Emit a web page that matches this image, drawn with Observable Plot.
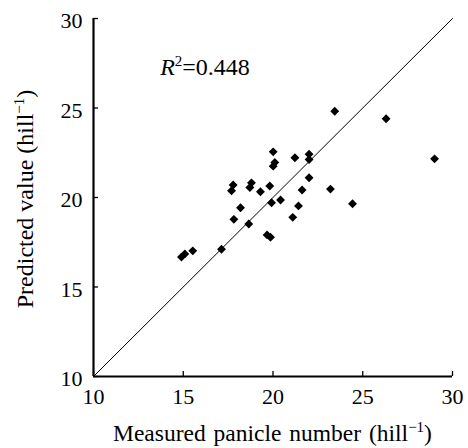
<!DOCTYPE html>
<html><head><meta charset="utf-8">
<script src="https://cdn.jsdelivr.net/npm/d3@7"></script>
<script src="https://cdn.jsdelivr.net/npm/@observablehq/plot@0.6"></script>
<style>body{margin:0;background:#fff} #chart{width:468px;height:448px}
#chart svg text, #chart svg tspan{font-family:'Liberation Serif','Times New Roman',serif !important}</style>
</head><body><div id="chart"></div>
<script>
const measured  = [14.9, 15.09, 15.53, 17.13, 17.78, 17.69, 18.80, 18.71, 19.30, 19.82, 18.19, 17.82, 18.65, 19.67, 19.86, 20.01, 20.10, 20.01, 21.22, 22.01, 22.01, 22.01, 21.62, 23.20, 24.43, 19.92, 20.42, 21.42, 21.10, 23.44, 26.30, 29.00];
const predicted = [16.67, 16.85, 17.02, 17.11, 20.70, 20.38, 20.82, 20.56, 20.32, 20.64, 19.43, 18.78, 18.52, 17.91, 17.78, 22.55, 21.96, 21.75, 22.22, 22.42, 22.12, 21.10, 20.42, 20.47, 19.65, 19.71, 19.86, 19.53, 18.89, 24.82, 24.40, 22.16];
const xTicks = [10, 15, 20, 25, 30];
const yTicks = [10, 15, 20, 25, 30];
const oneToOne = [10, 30];
const r2Value = "0.448";
const xTitle = "Measured panicle number (hill";
const yTitle = "Predicted value (hill";

const data = measured.map((m, i) => ({measured: m, predicted: predicted[i]}));
const font = "'Liberation Serif', 'Times New Roman', serif";

const plot = Plot.plot({
  width: 468, height: 448,
  marginLeft: 93, marginRight: 16, marginTop: 18, marginBottom: 72,
  style: {fontFamily: font, fontSize: "22px", color: "#000", background: "#fff"},
  x: {domain: [10, 30], label: null},
  y: {domain: [10, 30], label: null},
  marks: [
    Plot.axisX(xTicks, {tickSize: 0, tickPadding: 12, fontSize: 22, fill: "#000"}),
    Plot.axisX(xTicks, {tickSize: -5, tickFormat: () => "", stroke: "#000", strokeWidth: 1.3}),
    Plot.axisY(yTicks, {tickSize: 0, tickPadding: 11, dy: 2.5, fontSize: 22, fill: "#000"}),
    Plot.axisY(yTicks, {tickSize: -5, tickFormat: () => "", stroke: "#000", strokeWidth: 1.3}),
    Plot.line(oneToOne, {x: d => d, y: d => d, stroke: "#000", strokeWidth: 1}),
    Plot.ruleX([10], {stroke: "#000", strokeWidth: 2.2}),
    Plot.ruleY([10], {stroke: "#000", strokeWidth: 2.2}),
    Plot.dot(data, {x: "measured", y: "predicted", symbol: "diamond2", r: 4, fill: "#000", stroke: null})
  ]
});
document.getElementById("chart").appendChild(plot);

const svg = d3.select(plot);
const sx = plot.scale("x"), sy = plot.scale("y");

// x title
const xt = svg.append("text")
  .attr("x", (sx.apply(10) + sx.apply(30)) / 2).attr("y", 441)
  .attr("text-anchor", "middle").attr("font-family", font).attr("font-size", 23.5)
  .attr("word-spacing", 2).attr("fill", "#000");
xt.append("tspan").text(xTitle);
xt.append("tspan").attr("font-size", 15).attr("dy", -9).text("−1");
xt.append("tspan").attr("dy", 9).text(")");

// y title
const yt = svg.append("text")
  .attr("transform", `translate(33,${(sy.apply(10) + sy.apply(30)) / 2 + 2}) rotate(-90)`)
  .attr("text-anchor", "middle").attr("font-family", font).attr("font-size", 24).attr("fill", "#000");
yt.append("tspan").text(yTitle);
yt.append("tspan").attr("font-size", 15).attr("dy", -9).text("−1");
yt.append("tspan").attr("dy", 9).text(")");

// R² annotation
const rt = svg.append("text")
  .attr("x", sx.apply(13.74)).attr("y", sy.apply(26.84))
  .attr("text-anchor", "start")
  .attr("font-family", font).attr("font-size", 24).attr("fill", "#000");
rt.append("tspan").attr("font-style", "italic").text("R");
rt.append("tspan").attr("font-size", 15).attr("dy", -9).text("2");
rt.append("tspan").attr("dy", 9).text("=" + r2Value);
</script>
</body></html>
